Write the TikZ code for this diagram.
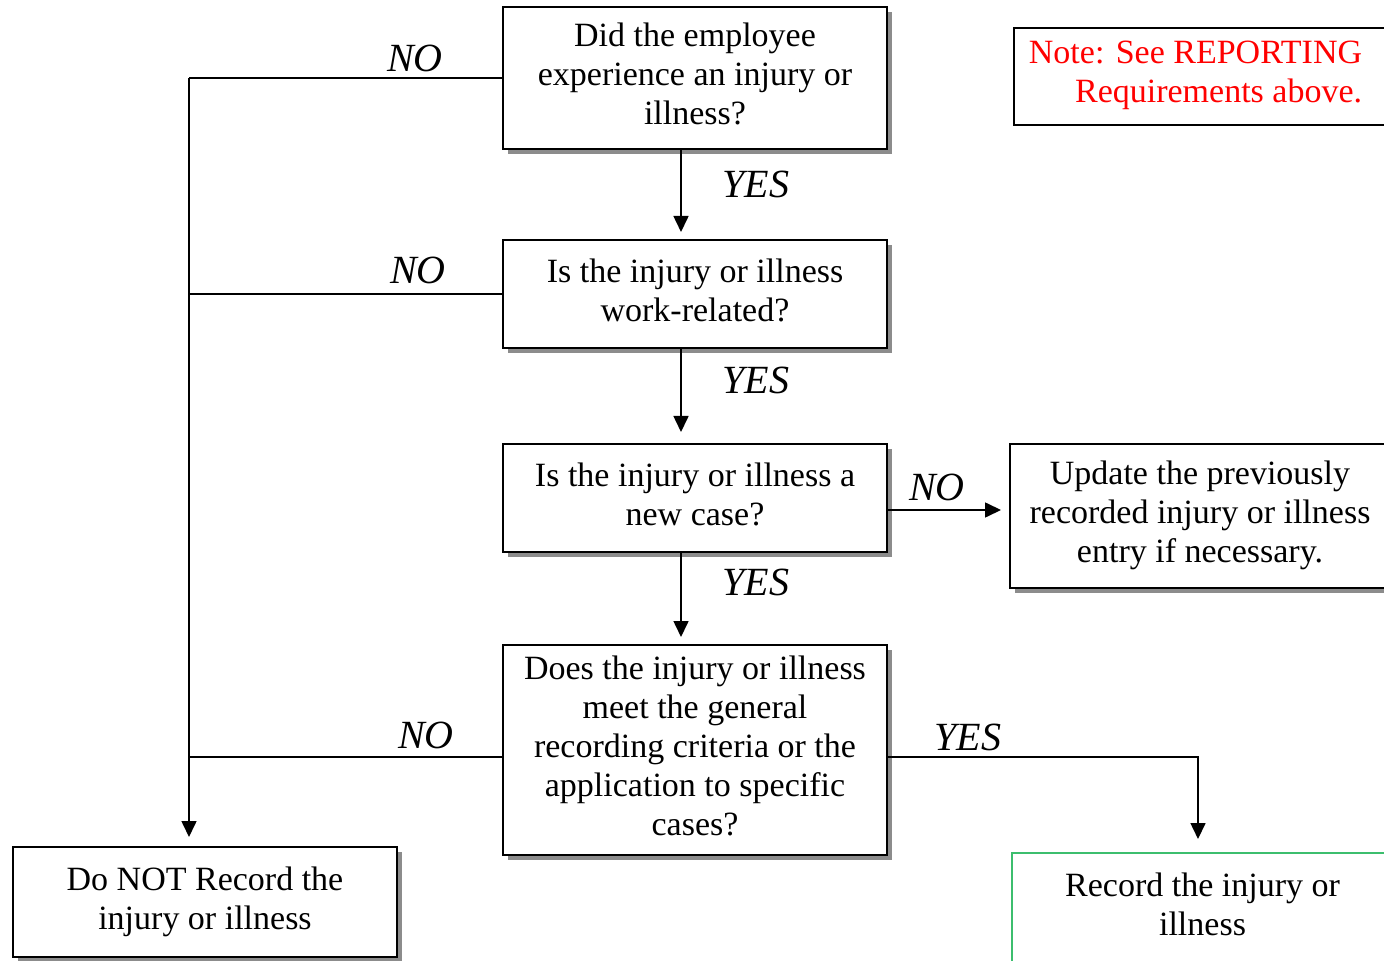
\documentclass[tikz,border=0pt]{standalone}
\usepackage{fontspec}
\setmainfont{Liberation Serif}
\usetikzlibrary{arrows.meta,shadows}
\definecolor{recgreen}{RGB}{60,190,110}

\begin{document}
\begin{tikzpicture}[
    x=0.5pt, y=-0.5pt,
    plain/.style={draw, fill=white, line width=1pt, minimum width=192pt, align=center,
        inner sep=0pt, text depth=4pt, font=\fontsize{17}{19.5}\selectfont},
    box/.style={plain, drop shadow={shadow xshift=2.5pt, shadow yshift=-2.5pt, opacity=1, fill=gray!90}},
    answer/.style={font=\fontsize{20}{24}\selectfont\itshape},
    flow/.style={line width=0.8pt},
    arrow/.style={flow, -{Triangle[length=8pt, width=7.5pt]}}
]
\useasboundingbox (0,0) rectangle (1384,961);
\clip (0,0) rectangle (1384,961);

% Questions
\node[box, minimum height=71pt] (q1) at (695,78) {Did the employee\\experience an injury or\\illness?};
\node[box, minimum height=54pt] (q2) at (695,294) {Is the injury or illness\\work-related?};
\node[box, minimum height=54pt] (q3) at (695,498) {Is the injury or illness a\\new case?};
\node[box, minimum height=105pt] (q4) at (695,750) {Does the injury or illness\\meet the general\\recording criteria or the\\application to specific\\cases?};

% Outcomes
\node[box, minimum height=55pt] (norec) at (205,902) {Do NOT Record the\\injury or illness};
\node[box, minimum width=190pt, minimum height=72pt] (upd) at (1200,516) {Update the previously\\recorded injury or illness\\entry if necessary.};
\node[plain, draw=recgreen, minimum width=190.5pt, minimum height=55pt] (rec) at (1202.5,908) {Record the injury or\\illness};

% Note
\node[plain, minimum width=193pt, minimum height=48.5pt] (note) at (1207,76.5) {};
\node[align=right, text=red, font=\fontsize{17}{19.5}\selectfont] (notetext) at (1195.5,75) {Note: See REPORTING\\Requirements above.};

\coordinate (trunk) at (189,0);
\coordinate (down) at (681,0);
\coordinate (turn) at (1198,0);

% NO branches
\draw[flow] (q1.west) -- (q1.west -| trunk);
\draw[flow] (q2.west) -- (q2.west -| trunk);
\draw[flow] ([yshift=-3.5pt]q4.west) -- ([yshift=-3.5pt]q4.west -| trunk);
\draw[arrow, shorten >=4.5pt] (q1.west -| trunk) -- (norec.north -| trunk);
\draw[arrow, shorten >=4pt] ([yshift=-6pt]q3.east) -- ([yshift=-6pt]q3.east -| upd.west);

% YES branches
\draw[arrow, shorten >=3.5pt] (q1.south -| down) -- (q2.north -| down);
\draw[arrow, shorten >=5.5pt] (q2.south -| down) -- (q3.north -| down);
\draw[arrow, shorten >=3.5pt] (q3.south -| down) -- (q4.north -| down);
\draw[arrow, shorten >=6.5pt] ([yshift=-3.5pt]q4.east) -| (rec.north -| turn);

% Labels
\node[answer] (no1) at (415,58) {NO};
\node[answer] (no2) at (418,270) {NO};
\node[answer] (no3) at (426,735) {NO};
\node[answer] (no4) at (937,487) {NO};
\node[answer] (yes1) at (756,184) {YES};
\node[answer] (yes2) at (756,380) {YES};
\node[answer] (yes3) at (756,582) {YES};
\node[answer] (yes4) at (968,737) {YES};

\end{tikzpicture}
\end{document}
